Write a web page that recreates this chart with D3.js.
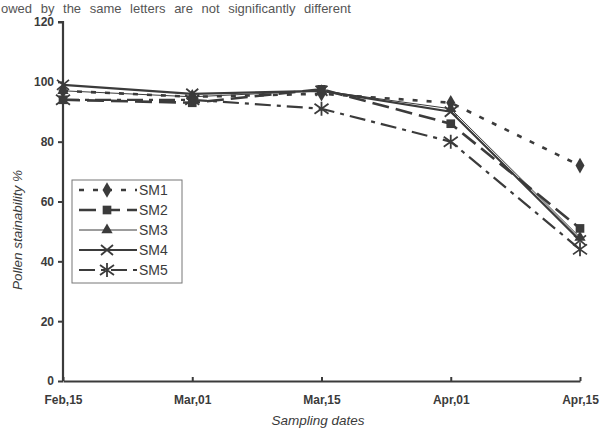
<!DOCTYPE html>
<html><head><meta charset="utf-8">
<script src="https://cdn.jsdelivr.net/npm/d3@7"></script>
<style>body{margin:0;background:#fff;} svg{display:block;}</style>
</head><body>
<svg id="c" width="601" height="430"></svg>
<script>
const categories = ["Feb,15","Mar,01","Mar,15","Apr,01","Apr,15"];
const seriesNames = ["SM1","SM2","SM3","SM4","SM5"];
const SM1 = [97, 95, 96, 93, 72];
const SM2 = [94, 93, 97.5, 86, 51];
const SM3 = [97, 95, 97, 91, 48];
const SM4 = [99, 96, 97, 90, 47];
const SM5 = [94, 94, 91, 80, 44];
const yTicks = [0,20,40,60,80,100,120];

const values = [SM1,SM2,SM3,SM4,SM5];
const styles = [
  {dash:"5,9", w:2.6, m:"diamond"},
  {dash:"17,7", w:2.6, m:"square"},
  {dash:null, w:1, m:"triangle"},
  {dash:null, w:2.2, m:"x"},
  {dash:"16,6,4,6", w:2.2, m:"asterisk"}
];
const col = "#3b3b3b";
const font = "Liberation Sans, Arial, sans-serif";
const svg = d3.select("#c");

svg.append("text").attr("x",1).attr("y",13).attr("font-family",font).attr("font-size",13)
  .attr("fill","#555").attr("word-spacing","5").text("owed by the same letters are not significantly different");

const x = d3.scalePoint().domain(categories).range([63,580]);
const y = d3.scaleLinear().domain([0,120]).range([381,22]);

const g = svg.append("g");
const ya = g.append("g").attr("transform","translate(63,0)")
  .call(d3.axisLeft(y).tickValues(yTicks).tickSize(5).tickPadding(4));
ya.select(".domain").attr("stroke",col).attr("stroke-width",2.2).attr("d","M-5,22H0V381");
ya.selectAll(".tick line").attr("stroke",col).attr("stroke-width",2);
ya.selectAll(".tick text").attr("fill",col).attr("font-family",font).attr("font-weight","bold").attr("font-size",12);

const xa = g.append("g").attr("transform","translate(0,381)")
  .call(d3.axisBottom(x).tickSizeInner(-4).tickSizeOuter(0).tickPadding(14));
xa.select(".domain").attr("stroke",col).attr("stroke-width",2.2);
xa.selectAll(".tick line").attr("stroke",col).attr("stroke-width",2);
xa.selectAll(".tick text").attr("fill",col).attr("font-family",font).attr("font-weight","bold").attr("font-size",12);

svg.append("text").attr("x",318).attr("y",425).attr("text-anchor","middle")
  .attr("font-family",font).attr("font-style","italic").attr("font-size",13.5).attr("fill",col).text("Sampling dates");
svg.append("text").attr("transform","translate(22,230) rotate(-90)").attr("text-anchor","middle")
  .attr("font-family",font).attr("font-style","italic").attr("font-size",13.5).attr("fill",col).text("Pollen stainability %");

function marker(sel, type, cx, cy, s){
  const gg = sel.append("g").attr("transform",`translate(${cx},${cy})`);
  if(type==="diamond") gg.append("path").attr("d",d3.symbol(d3.symbolDiamond, 70*s)()).attr("fill",col);
  if(type==="square") gg.append("path").attr("d",d3.symbol(d3.symbolSquare, 75*s)()).attr("fill",col);
  if(type==="triangle") gg.append("path").attr("d",d3.symbol(d3.symbolTriangle, 55*s)()).attr("fill",col);
  if(type==="x") gg.append("path").attr("d",`M-6,-5L6,5M-6,5L6,-5`).attr("stroke",col).attr("stroke-width",1.8);
  if(type==="asterisk") gg.append("path").attr("d",`M-7,-5L7,5M-7,5L7,-5M0,-7V7`).attr("stroke",col).attr("stroke-width",1.8);
}

const line = d3.line().x((d,i)=>x(categories[i])).y(d=>y(d));
values.forEach((vals,k)=>{
  const st = styles[k];
  g.append("path").datum(vals).attr("d",line).attr("fill","none").attr("stroke",col)
    .attr("stroke-width",st.w).attr("stroke-dasharray",st.dash);
});
values.forEach((vals,k)=>{
  vals.forEach((v,i)=>marker(g, styles[k].m, x(categories[i]), y(v), 1));
});

const lg = svg.append("g");
lg.append("rect").attr("x",72).attr("y",180).attr("width",110).attr("height",103)
  .attr("fill","#fff").attr("stroke","#777").attr("stroke-width",1);
seriesNames.forEach((n,k)=>{
  const yy = 190 + k*20;
  const st = styles[k];
  lg.append("line").attr("x1",79).attr("x2",137).attr("y1",yy).attr("y2",yy).attr("stroke",col)
    .attr("stroke-width",st.w).attr("stroke-dasharray",st.dash);
  marker(lg, st.m, 107, yy, 1);
  lg.append("text").attr("x",139).attr("y",yy+5).attr("font-family",font)
    .attr("font-size",14).attr("fill",col).text(n);
});
</script>
</body></html>
